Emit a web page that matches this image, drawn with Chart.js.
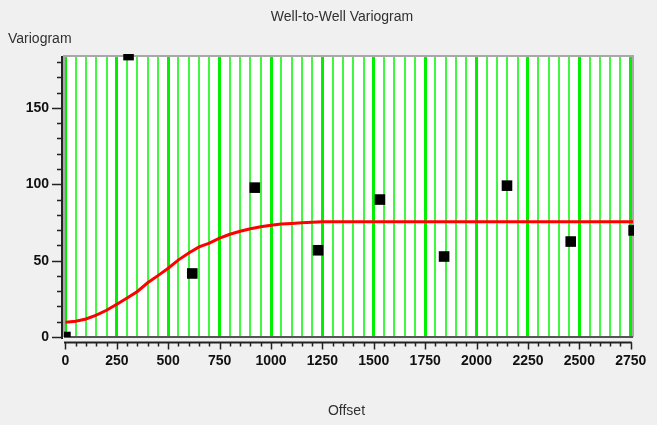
<!DOCTYPE html>
<html>
<head>
<meta charset="utf-8">
<title>Well-to-Well Variogram</title>
<script src="https://cdn.jsdelivr.net/npm/chart.js@4/dist/chart.umd.min.js"></script>
<style>
  html, body { margin: 0; padding: 0; background: #f0f0f0; }
  canvas { display: block; }
</style>
</head>
<body>
<canvas id="vario" width="657" height="425"></canvas>
<script>
// experimental variogram (lag offset, semivariance)
const lagOffsets = [0, 307, 617, 921, 1229, 1530, 1842, 2148, 2458, 2764];
const lagValues = [0, 184.6, 41.6, 97.8, 56.8, 90, 52.7, 99.1, 62.5, 69.8];

// fitted model curve
const modelX = [0, 50, 100, 150, 200, 250, 300, 350, 400, 450, 500, 550, 600, 650, 700,
  750, 800, 850, 900, 950, 1000, 1050, 1100, 1150, 1200, 1250, 1300, 2761];
const modelY = [9.7, 10.3, 11.8, 14.3, 17.5, 21.5, 25.5, 29.8, 35.5, 40.2, 45, 50.5, 55, 59, 61.5,
  64.8, 67.3, 69.2, 70.9, 72.2, 73.2, 74, 74.4, 74.8, 75.1, 75.4, 75.5, 75.5];

// axis ticks
const xLabels = [0, 250, 500, 750, 1000, 1250, 1500, 1750, 2000, 2250, 2500, 2750];
const xMinorStep = 50;
const yLabels = [0, 50, 100, 150];
const yMinorStep = 10;

const TITLE = "Well-to-Well Variogram";
const Y_TITLE = "Variogram";
const X_TITLE = "Offset";

const xGrid = [];
for (let v = 0; v <= 2750; v += xMinorStep) xGrid.push(v);

// white plot box, axes drawn just outside it, and the texts
const frame = {
  id: "frame",
  beforeDraw(chart) {
    const c = chart.ctx, a = chart.chartArea;
    c.save();
    c.fillStyle = "#f0f0f0";
    c.fillRect(0, 0, chart.width, chart.height);
    c.fillStyle = "#ffffff";
    c.fillRect(a.left, a.top, a.right - a.left, a.bottom - a.top);
    c.restore();
  },
  beforeDatasetsDraw(chart) {
    const c = chart.ctx, a = chart.chartArea;
    c.save();
    // box border, under the markers
    c.strokeStyle = "#a8a8a8";
    c.lineWidth = 2;
    c.beginPath();
    c.moveTo(a.left, a.bottom);
    c.lineTo(a.left, a.top);
    c.lineTo(a.right, a.top);
    c.lineTo(a.right, a.bottom);
    c.stroke();
    c.strokeStyle = "#555555";
    c.beginPath();
    c.moveTo(a.left, a.bottom);
    c.lineTo(a.right, a.bottom);
    c.stroke();
    c.restore();
  },
  afterDraw(chart) {
    const c = chart.ctx, a = chart.chartArea;
    const xs = chart.scales.x, ys = chart.scales.y;
    c.save();
    // y axis line and ticks
    const ax = a.left - 2;
    c.strokeStyle = "#222222";
    c.lineWidth = 2;
    c.beginPath();
    c.moveTo(ax, a.top);
    c.lineTo(ax, a.bottom + 2);
    c.stroke();
    c.lineWidth = 1.5;
    for (let v = 0; v <= ys.max; v += yMinorStep) {
      const py = Math.round(ys.getPixelForValue(v)) + 0.5;
      const len = v % 50 === 0 ? 10 : 5;
      c.beginPath();
      c.moveTo(ax, py);
      c.lineTo(ax - len, py);
      c.stroke();
    }

    // x axis line and ticks
    const ay = a.bottom + 5.5;
    const x1 = xs.getPixelForValue(2750);
    c.lineWidth = 2;
    c.beginPath();
    c.moveTo(a.left, ay);
    c.lineTo(x1 + 1, ay);
    c.stroke();
    c.lineWidth = 1.5;
    xGrid.forEach(v => {
      const px = Math.round(xs.getPixelForValue(v)) + 0.5;
      const len = v % 250 === 0 ? 7 : 4;
      c.beginPath();
      c.moveTo(px, ay);
      c.lineTo(px, ay + len);
      c.stroke();
    });

    // texts
    c.fillStyle = "#303030";
    c.font = "14px 'Liberation Sans', Arial, sans-serif";
    c.textBaseline = "middle";
    c.textAlign = "center";
    c.fillText(TITLE, 342, 17);
    c.fillText(X_TITLE, 346.5, 411);
    c.textAlign = "left";
    c.fillText(Y_TITLE, 8, 39);
    c.restore();
  }
};

new Chart(document.getElementById("vario"), {
  type: "scatter",
  data: {
    datasets: [
      {
        label: "Experimental",
        data: lagOffsets.map((x, i) => ({ x: x, y: lagValues[i] })),
        pointStyle: "rect",
        pointRadius: 7.5,
        pointHoverRadius: 7.5,
        backgroundColor: "#000000",
        borderWidth: 0,
        clip: { left: 0, top: 2, right: 1, bottom: 0 },
        order: 1
      },
      {
        type: "line",
        label: "Model",
        data: modelX.map((x, i) => ({ x: x, y: modelY[i] })),
        borderColor: "#ff0000",
        borderWidth: 3,
        pointRadius: 0,
        tension: 0,
        fill: false,
        clip: 0,
        order: 2
      }
    ]
  },
  options: {
    responsive: false,
    animation: false,
    events: [],
    layout: { padding: { top: 56, right: 24, left: 0, bottom: 0 } },
    plugins: {
      legend: { display: false },
      tooltip: { enabled: false },
      title: { display: false }
    },
    scales: {
      x: {
        type: "linear",
        min: -7,
        max: 2761,
        afterBuildTicks: s => { s.ticks = xGrid.map(v => ({ value: v })); },
        afterFit: s => { s.height = 88; s.paddingLeft = 0; s.paddingRight = 0; },
        border: { display: false },
        grid: {
          drawTicks: false,
          color: ctx => ctx.tick && ctx.tick.value % 250 === 0 ? "#00f000" : "#40f840",
          lineWidth: ctx => ctx.tick && ctx.tick.value % 250 === 0 ? 3 : 2
        },
        ticks: {
          autoSkip: false,
          maxRotation: 0,
          padding: 16,
          color: "#111111",
          font: { family: "'Liberation Sans', Arial, sans-serif", size: 14, weight: "bold" },
          callback: v => xLabels.includes(v) ? String(v) : ""
        }
      },
      y: {
        type: "linear",
        min: 0,
        max: 184,
        afterBuildTicks: s => { s.ticks = yLabels.map(v => ({ value: v })); },
        afterFit: s => { s.width = 64; s.paddingTop = 0; s.paddingBottom = 0; },
        border: { display: false },
        grid: { display: false, drawTicks: false },
        ticks: {
          padding: 15,
          color: "#111111",
          font: { family: "'Liberation Sans', Arial, sans-serif", size: 14, weight: "bold" }
        }
      }
    }
  },
  plugins: [frame]
});
</script>
</body>
</html>
